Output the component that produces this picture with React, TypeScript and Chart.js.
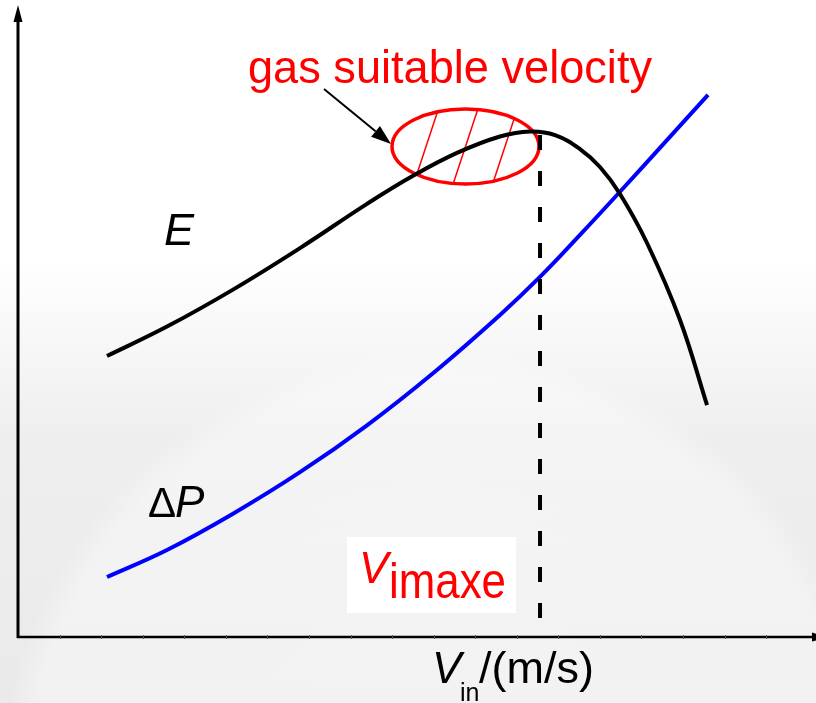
import { useEffect, useRef } from "react";
import { Chart, registerables } from "chart.js";

Chart.register(...registerables);

// ---- data (x: velocity units, y: arbitrary value units) ----
const E_X = [2.141, 3.585, 5.173, 6.785, 8.397, 9.504, 10.562, 11.597, 12.319, 12.92, 13.522, 14.003, 14.484, 15.134, 15.928, 16.578];
const E_Y = [4.467, 4.935, 5.523, 6.183, 6.886, 7.332, 7.696, 7.957, 8.037, 7.98, 7.758, 7.472, 7.043, 6.264, 5.04, 3.688];
const DP_X = [2.141, 3.585, 5.173, 6.785, 8.397, 9.985, 11.597, 12.559, 13.522, 14.484, 15.543, 16.602];
const DP_Y = [0.954, 1.383, 1.96, 2.62, 3.366, 4.194, 5.121, 5.725, 6.393, 7.079, 7.849, 8.618];
const VMAX_X = [12.56, 12.56];
const VMAX_Y = [7.98, 0.24];
const X_TICKS = [1, 2, 3, 4, 5, 6, 7, 8, 9, 10, 11, 12, 13, 14, 15, 16, 17, 18];
// suitable-velocity region (ellipse centre and radii, in data units)
const REGION_CENTER = [10.767, 7.798];
const REGION_RADII = [1.768, 0.596];
const HATCH_OFFSETS = [-0.95, 0.0, 0.95];

const FONT = '"Liberation Sans", Arial, sans-serif';

function fitText(ctx: CanvasRenderingContext2D, text: string, x: number, y: number, width: number, sy = 1) {
  const w = ctx.measureText(text).width;
  ctx.save();
  ctx.translate(x, y);
  ctx.scale(width / w, sy);
  ctx.fillText(text, 0, 0);
  ctx.restore();
}

const backgroundPlugin = {
  id: "bg",
  beforeDraw(chart: any) {
    const ctx = chart.ctx as CanvasRenderingContext2D;
    const W = chart.width, H = chart.height;
    ctx.save();
    ctx.fillStyle = "#ffffff";
    ctx.fillRect(0, 0, W, H);
    const g = ctx.createLinearGradient(0, 260, 0, H);
    g.addColorStop(0, "rgba(234,234,234,0)");
    g.addColorStop(0.4, "rgba(234,234,234,0.8)");
    g.addColorStop(1, "rgba(234,234,234,1)");
    ctx.fillStyle = g;
    ctx.fillRect(0, 0, W, H);
    ctx.translate(440, 790);
    const r = ctx.createRadialGradient(0, 0, 0, 0, 0, 480);
    r.addColorStop(0, "rgba(255,255,255,0.4)");
    r.addColorStop(0.86, "rgba(255,255,255,0.35)");
    r.addColorStop(0.92, "rgba(255,255,255,0.0)");
    ctx.fillStyle = r;
    ctx.fillRect(-500, -800, 1000, 800);
    ctx.restore();
  },
};

const regionPlugin = {
  id: "region",
  beforeDatasetsDraw(chart: any) {
    const ctx = chart.ctx as CanvasRenderingContext2D;
    const xs = chart.scales.x, ys = chart.scales.y;
    const cx = xs.getPixelForValue(REGION_CENTER[0]);
    const cy = ys.getPixelForValue(REGION_CENTER[1]);
    const rx = xs.getPixelForValue(REGION_CENTER[0] + REGION_RADII[0]) - cx;
    const ry = cy - ys.getPixelForValue(REGION_CENTER[1] + REGION_RADII[1]);
    ctx.save();
    ctx.beginPath();
    ctx.ellipse(cx, cy, rx, ry, 0, 0, Math.PI * 2);
    ctx.save();
    ctx.clip();
    ctx.strokeStyle = "#ff0000";
    ctx.lineWidth = 1.5;
    HATCH_OFFSETS.forEach((o) => {
      const px = xs.getPixelForValue(REGION_CENTER[0] + o);
      ctx.beginPath();
      ctx.moveTo(px - 0.33 * 60, cy + 60);
      ctx.lineTo(px + 0.33 * 60, cy - 60);
      ctx.stroke();
    });
    ctx.restore();
    ctx.beginPath();
    ctx.ellipse(cx, cy, rx, ry, 0, 0, Math.PI * 2);
    ctx.strokeStyle = "#ff0000";
    ctx.lineWidth = 3.5;
    ctx.stroke();
    ctx.restore();
  },
};

const axesPlugin = {
  id: "axesAndLabels",
  afterDatasetsDraw(chart: any) {
    const ctx = chart.ctx as CanvasRenderingContext2D;
    const xs = chart.scales.x, ys = chart.scales.y;
    const x0 = xs.getPixelForValue(0);
    const y0 = ys.getPixelForValue(0);
    const yTop = ys.getPixelForValue(10);
    const xEnd = xs.getPixelForValue(19.2);
    ctx.save();
    ctx.strokeStyle = "#000";
    ctx.fillStyle = "#000";
    ctx.lineWidth = 3;
    ctx.beginPath();
    ctx.moveTo(x0, y0 + 1);
    ctx.lineTo(x0, yTop + 12);
    ctx.stroke();
    ctx.beginPath();
    ctx.moveTo(x0, yTop - 3);
    ctx.lineTo(x0 - 4.5, yTop + 14);
    ctx.lineTo(x0 + 4.5, yTop + 14);
    ctx.closePath();
    ctx.fill();
    ctx.lineWidth = 2.5;
    ctx.beginPath();
    ctx.moveTo(x0 - 1, y0);
    ctx.lineTo(xEnd, y0);
    ctx.stroke();
    ctx.beginPath();
    ctx.moveTo(xEnd + 12, y0);
    ctx.lineTo(xEnd - 4, y0 - 4.5);
    ctx.lineTo(xEnd - 4, y0 + 4.5);
    ctx.closePath();
    ctx.fill();
    ctx.lineWidth = 1;
    ctx.strokeStyle = "#555";
    X_TICKS.forEach((t) => {
      const px = Math.round(xs.getPixelForValue(t)) + 0.5;
      ctx.beginPath();
      ctx.moveTo(px, y0 - 2);
      ctx.lineTo(px, y0 + 2);
      ctx.stroke();
    });

    ctx.strokeStyle = "#000";
    ctx.lineWidth = 2;
    const ax0 = 324, ay0 = 89, ax1 = 391, ay1 = 144;
    const ang = Math.atan2(ay1 - ay0, ax1 - ax0);
    const hl = 20, hw = 7;
    const bx = ax1 - hl * Math.cos(ang), by = ay1 - hl * Math.sin(ang);
    ctx.beginPath();
    ctx.moveTo(ax0, ay0);
    ctx.lineTo(bx, by);
    ctx.stroke();
    ctx.beginPath();
    ctx.moveTo(ax1, ay1);
    ctx.lineTo(bx + hw * Math.sin(ang), by - hw * Math.cos(ang));
    ctx.lineTo(bx - hw * Math.sin(ang), by + hw * Math.cos(ang));
    ctx.closePath();
    ctx.fill();

    ctx.textBaseline = "alphabetic";
    ctx.textAlign = "left";
    ctx.fillStyle = "#ff0000";
    ctx.font = `46px ${FONT}`;
    fitText(ctx, "gas suitable velocity", 248, 83, 404);

    ctx.fillStyle = "#000";
    ctx.font = `italic 45px ${FONT}`;
    ctx.fillText("E", 164, 245);

    ctx.font = `42px ${FONT}`;
    ctx.fillText("\u0394", 148, 517);
    ctx.font = `italic 44px ${FONT}`;
    ctx.fillText("P", 175, 517);

    ctx.fillStyle = "#ffffff";
    ctx.fillRect(347, 537, 169, 76);
    ctx.fillStyle = "#ff0000";
    ctx.font = `italic 44px ${FONT}`;
    ctx.fillText("V", 359, 583);
    ctx.font = `44px ${FONT}`;
    fitText(ctx, "imaxe", 389, 598, 117, 1.12);

    ctx.fillStyle = "#000";
    ctx.font = `italic 44px ${FONT}`;
    ctx.fillText("V", 432, 683);
    ctx.font = `25px ${FONT}`;
    ctx.fillText("in", 460, 701);
    ctx.font = `45px ${FONT}`;
    fitText(ctx, "/(m/s)", 479, 683, 115);
    ctx.restore();
  },
};

export default function App() {
  const ref = useRef<HTMLCanvasElement | null>(null);
  useEffect(() => {
    if (!ref.current) return;
    const pts = (xs: number[], ys: number[]) => xs.map((x, i) => ({ x, y: ys[i] }));
    const chart = new Chart(ref.current, {
      type: "line",
      data: {
        datasets: [
          {
            label: "ΔP",
            data: pts(DP_X, DP_Y),
            borderColor: "#0000ff",
            borderWidth: 4,
            pointRadius: 0,
            tension: 0.4,
            fill: false,
            order: 3,
          },
          {
            label: "Vimaxe",
            data: pts(VMAX_X, VMAX_Y),
            borderColor: "#000",
            borderWidth: 4,
            borderDash: [15, 21],
            pointRadius: 0,
            fill: false,
            order: 2,
          },
          {
            label: "E",
            data: pts(E_X, E_Y),
            borderColor: "#000",
            borderWidth: 4,
            pointRadius: 0,
            tension: 0.4,
            fill: false,
            order: 1,
          },
        ],
      },
      options: {
        responsive: false,
        animation: false,
        layout: { padding: { left: 18, right: 0, top: 8, bottom: 66 } },
        scales: {
          x: { type: "linear", min: 0, max: 19.2, display: false },
          y: { type: "linear", min: 0, max: 10, display: false },
        },
        plugins: { legend: { display: false }, tooltip: { enabled: false } },
      },
      plugins: [backgroundPlugin, regionPlugin, axesPlugin],
    });
    return () => chart.destroy();
  }, []);
  return (
    <div style={{ position: "absolute", left: 0, top: 0, width: 816, height: 703 }}>
      <canvas ref={ref} width={816} height={703} style={{ display: "block" }} />
    </div>
  );
}
